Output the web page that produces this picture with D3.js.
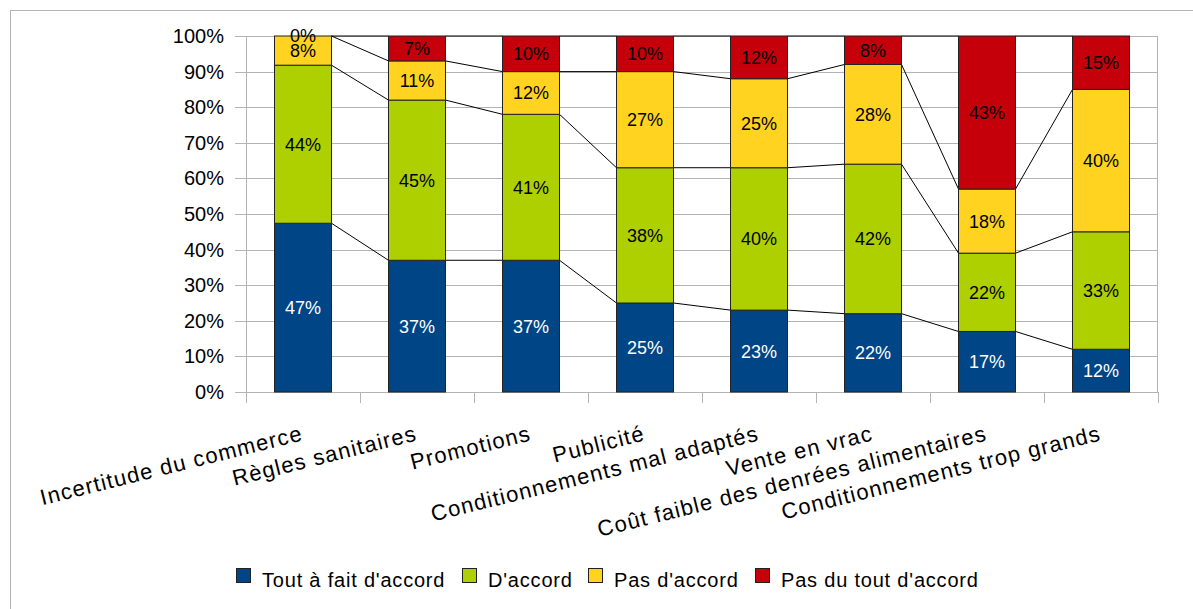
<!DOCTYPE html>
<html>
<head>
<meta charset="utf-8">
<script src="https://cdn.jsdelivr.net/npm/d3@7"></script>
<style>
  body { margin: 0; background: #fff; }
  svg { font-family: 'Liberation Sans', Arial, sans-serif; }
</style>
</head>
<body>
<svg id="chart" width="1193" height="609"></svg>
<script>
const categories = ['Incertitude du commerce', 'Règles sanitaires', 'Promotions', 'Publicité',
  'Conditionnements mal adaptés', 'Vente en vrac', 'Coût faible des denrées alimentaires',
  'Conditionnements trop grands'];
const seriesNames = ["Tout à fait d'accord", "D'accord", "Pas d'accord", "Pas du tout d'accord"];
const toutAFait = [47.4, 37, 37, 25, 23, 22, 17, 12];
const dAccord = [44.4, 45, 41, 38, 40, 42, 22, 33];
const pasDAccord = [8.2, 11, 12, 27, 25, 28, 18, 40];
const pasDuTout = [0, 7, 10, 10, 12, 8, 43, 15];
const yTicks = [0, 10, 20, 30, 40, 50, 60, 70, 80, 90, 100];
const colours = ['#004586', '#aecf00', '#ffd320', '#c5000b'];

const rows = categories.map((c, i) => ({
  cat: c,
  [seriesNames[0]]: toutAFait[i],
  [seriesNames[1]]: dAccord[i],
  [seriesNames[2]]: pasDAccord[i],
  [seriesNames[3]]: pasDuTout[i]
}));

const svg = d3.select('#chart');
const plot = { left: 246, right: 1158, top: 36, bottom: 392 };

const x = d3.scaleBand().domain(categories).range([plot.left, plot.right]).paddingInner(0.5).paddingOuter(0.25);
const y = d3.scaleLinear().domain([0, 100]).range([plot.bottom, plot.top]);
const colour = d3.scaleOrdinal().domain(seriesNames).range(colours);

// outer frame
svg.append('rect')
  .attr('x', 10.5).attr('y', 10.5)
  .attr('width', 1200).attr('height', 700)
  .style('fill', 'none').style('stroke', '#b3b3b3');

// horizontal grid
svg.append('g').selectAll('line')
  .data(yTicks)
  .enter().append('line')
  .attr('x1', plot.left - 11).attr('x2', plot.right)
  .attr('y1', d => Math.round(y(d)) + 0.5).attr('y2', d => Math.round(y(d)) + 0.5)
  .style('stroke', '#b3b3b3');

// right border of plot
svg.append('line')
  .attr('x1', plot.right - 0.5).attr('x2', plot.right - 0.5).attr('y1', plot.top).attr('y2', plot.bottom)
  .style('stroke', '#b3b3b3');

const yAxis = svg.append('g')
  .attr('transform', 'translate(' + (plot.left - 11) + ',0)')
  .call(d3.axisLeft(y).tickValues(yTicks).tickFormat(d => d + '%').tickSize(0).tickPadding(11));
yAxis.select('.domain').remove();
yAxis.selectAll('text').style('font-size', '20px').style('fill', '#000')
  .style('font-family', "'Liberation Sans', Arial, sans-serif");

// y axis line
svg.append('line')
  .attr('x1', plot.left + 0.5).attr('x2', plot.left + 0.5).attr('y1', plot.top).attr('y2', plot.bottom + 11)
  .style('stroke', '#b3b3b3');

// category ticks
const boundaries = d3.range(categories.length + 1).map(i => plot.left + i * x.step());
svg.append('g').selectAll('line')
  .data(boundaries)
  .enter().append('line')
  .attr('x1', d => Math.round(d) + 0.5).attr('x2', d => Math.round(d) + 0.5)
  .attr('y1', plot.bottom).attr('y2', plot.bottom + 11)
  .style('stroke', '#b3b3b3');

// stacked bars
const stacked = d3.stack().keys(seriesNames)(rows);

// connecting lines between stacked tops
const connect = svg.append('g');
stacked.forEach(layer => {
  for (let i = 0; i < layer.length - 1; i++) {
    connect.append('line')
      .attr('x1', x(categories[i]) + x.bandwidth())
      .attr('y1', y(layer[i][1]))
      .attr('x2', x(categories[i + 1]))
      .attr('y2', y(layer[i + 1][1]))
      .style('stroke', '#000')
      .style('stroke-width', 1);
  }
});

const layers = svg.append('g').selectAll('g')
  .data(stacked)
  .enter().append('g')
  .style('fill', d => colour(d.key));

layers.selectAll('rect')
  .data(d => d)
  .enter().append('rect')
  .attr('x', d => x(d.data.cat))
  .attr('y', d => y(d[1]))
  .attr('width', x.bandwidth())
  .attr('height', d => y(d[0]) - y(d[1]))
  .style('stroke', '#222')
  .style('stroke-width', 1);

// value labels
layers.each(function(layer, li) {
  d3.select(this).selectAll('text')
    .data(layer)
    .enter().append('text')
    .attr('x', d => x(d.data.cat) + x.bandwidth() / 2)
    .attr('y', d => (y(d[0]) + y(d[1])) / 2)
    .attr('dy', '0.36em')
    .attr('text-anchor', 'middle')
    .style('font-size', '18px')
    .style('fill', li === 0 ? '#fff' : '#000')
    .text(d => Math.round(d[1] - d[0]) + '%');
});

// category labels
svg.append('g').selectAll('text')
  .data(categories)
  .enter().append('text')
  .attr('transform', d => 'translate(' + (x(d) + x.bandwidth() / 2 + 1) + ',440) rotate(-14)')
  .attr('text-anchor', 'end')
  .style('font-size', '22px')
  .style('letter-spacing', '1.2px')
  .style('fill', '#000')
  .text(d => d);

// legend
const legendX = [236, 462, 588, 755];
const legend = svg.append('g').selectAll('g')
  .data(seriesNames)
  .enter().append('g')
  .attr('transform', (d, i) => 'translate(' + legendX[i] + ',568)');

legend.append('rect')
  .attr('x', 0.5).attr('y', 0.5)
  .attr('width', 14).attr('height', 14)
  .style('fill', d => colour(d))
  .style('stroke', '#222');

legend.append('text')
  .attr('x', 26).attr('y', 19)
  .style('font-size', '20px')
  .style('letter-spacing', '0.8px')
  .style('fill', '#000')
  .text(d => d);
</script>
</body>
</html>
